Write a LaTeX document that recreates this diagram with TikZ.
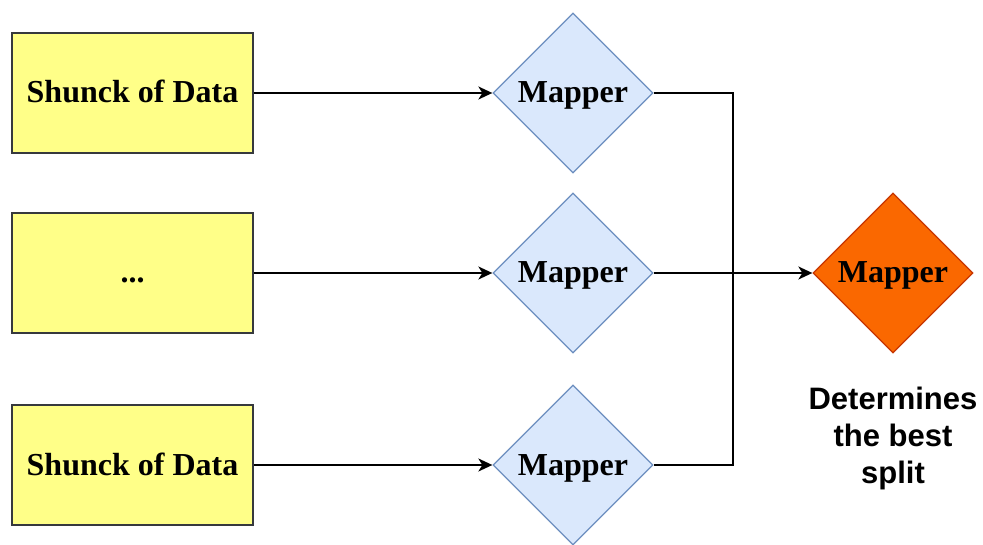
\documentclass[tikz,border=0pt]{standalone}
\usepackage{fontspec}
\setmainfont{Liberation Serif}
\newfontfamily\notefont{Liberation Sans}
\usetikzlibrary{shapes.geometric,arrows.meta}
\definecolor{chunkfill}{HTML}{FFFF88}
\definecolor{chunkline}{HTML}{36393D}
\definecolor{mapfill}{HTML}{DAE8FC}
\definecolor{mapline}{HTML}{6C8EBF}
\definecolor{redfill}{HTML}{FA6800}
\definecolor{redline}{HTML}{C73500}
\tikzset{
  chunk/.style={draw=chunkline, fill=chunkfill, line width=1.5pt,
    minimum width=241pt, minimum height=120pt, inner sep=0pt,
    text height=24pt, text depth=4pt,
    font=\fontsize{32}{38}\selectfont\bfseries},
  mapbox/.style={shape=diamond, draw=mapline, fill=mapfill, line width=1.3pt,
    minimum width=160pt, minimum height=160pt, inner sep=0pt,
    text height=24pt, text depth=4pt,
    font=\fontsize{32}{38}\selectfont\bfseries},
  reducebox/.style={mapbox, draw=redline, fill=redfill},
  link/.style={draw=black, line width=1.7pt},
  linkarrow/.style={link, -{Stealth[length=14pt,width=13pt,inset=4pt]}},
  note/.style={align=center, inner sep=0pt,
    font=\fontsize{31}{37}\selectfont\notefont\bfseries}
}
\begin{document}
\begin{tikzpicture}[x=1pt,y=-1pt]
  \useasboundingbox (0,0) rectangle (983,545);
  % input chunks
  \node[chunk] (c1) at (132.5,93) {Shunck of Data};
  \node[chunk] (c2) at (132.5,273) {...};
  \node[chunk] (c3) at (132.5,465) {Shunck of Data};
  % mappers
  \node[mapbox] (m1) at (573,93) {Mapper};
  \node[mapbox] (m2) at (573,273) {Mapper};
  \node[mapbox] (m3) at (573,465) {Mapper};
  % final stage
  \node[reducebox] (r) at (893,273) {Mapper};
  \node[note] (n) at (893,438) {Determines\\the best\\split};
  % connectors
  \coordinate (j) at (733,273);
  \draw[linkarrow] (c1.east) -- (m1.west);
  \draw[linkarrow] (c2.east) -- (m2.west);
  \draw[linkarrow] (c3.east) -- (m3.west);
  \draw[link] (m1.east) -| (j) |- (m3.east);
  \draw[linkarrow] (m2.east) -- (r.west);
\end{tikzpicture}
\end{document}
